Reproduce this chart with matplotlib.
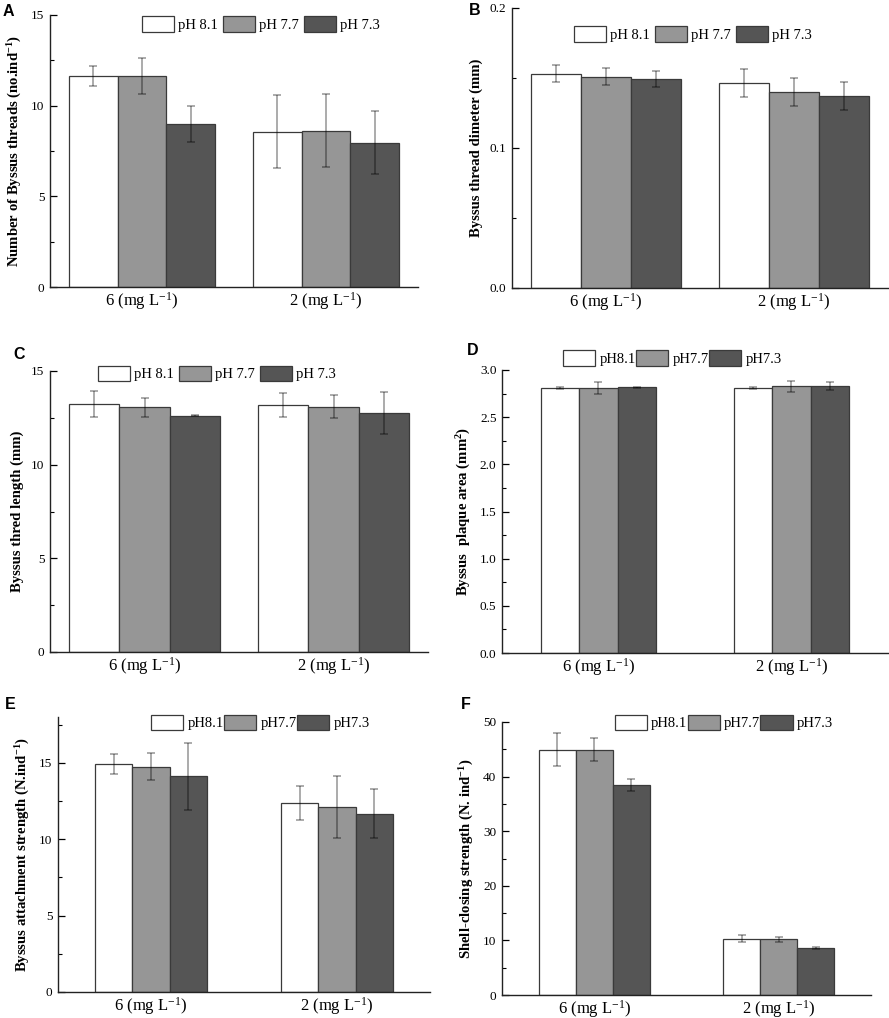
import matplotlib
matplotlib.use("Agg")
import matplotlib.pyplot as plt
import numpy as np

plt.rcParams['font.family'] = ['Liberation Serif', 'DejaVu Serif']
plt.rcParams['mathtext.default'] = 'regular'

groups = ['6 (mg L$^{-1}$)', '2 (mg L$^{-1}$)']
colors = ['white', '#969696', '#555555']

# panel A - number of byssus threads
a_labels = ['pH 8.1', 'pH 7.7', 'pH 7.3']
a_mean = [[11.63, 8.57], [11.63, 8.62], [8.97, 7.96]]
a_err = [[0.57, 2.0], [1.0, 2.0], [1.0, 1.72]]

# panel B - thread diameter
b_labels = ['pH 8.1', 'pH 7.7', 'pH 7.3']
b_mean = [[0.1531, 0.1464], [0.1510, 0.1398], [0.1493, 0.1371]]
b_err = [[0.0063, 0.010], [0.006, 0.010], [0.0057, 0.0101]]

# panel C - thread length
c_labels = ['pH 8.1', 'pH 7.7', 'pH 7.3']
c_mean = [[13.22, 13.17], [13.06, 13.10], [12.62, 12.76]]
c_err = [[0.70, 0.65], [0.50, 0.60], [0.04, 1.10]]

# panel D - plaque area
d_labels = ['pH8.1', 'pH7.7', 'pH7.3']
d_mean = [[2.81, 2.81], [2.806, 2.827], [2.817, 2.827]]
d_err = [[0.015, 0.015], [0.065, 0.06], [0.006, 0.043]]

# panel E - attachment strength
e_labels = ['pH8.1', 'pH7.7', 'pH7.3']
e_mean = [[14.91, 12.38], [14.76, 12.12], [14.13, 11.68]]
e_err = [[0.65, 1.1], [0.9, 2.05], [2.2, 1.6]]

# panel F - shell closing strength
f_labels = ['pH8.1', 'pH7.7', 'pH7.3']
f_mean = [[44.9, 10.3], [44.9, 10.2], [38.5, 8.6]]
f_err = [[3.0, 0.6], [2.1, 0.45], [1.1, 0.2]]

W, H = 889, 1018
fig = plt.figure(figsize=(W / 100, H / 100), dpi=100)


def make_ax(x0, y0, x1, y1):
    return fig.add_axes([x0 / W, 1 - y1 / H, (x1 - x0) / W, (y1 - y0) / H])


def panel(ax, means, errs, labels, width, ylim, major, minor, ylabel, leg_xy, colsp, fmt):
    x = np.array([1, 2])
    for i in range(3):
        pos = x + (i - 1) * width
        ax.bar(pos, means[i], width, color=colors[i], edgecolor='#3a3a3a', linewidth=0.9,
               label=labels[i], zorder=2)
        ax.errorbar(pos, means[i], yerr=errs[i], fmt='none', ecolor=(0, 0, 0, 0.42),
                    elinewidth=1.1, capsize=3, capthick=1.1, zorder=3)
    ax.set_xlim(0.5, 2.5)
    ax.set_ylim(*ylim)
    ax.set_yticks(major)
    ax.set_yticks(minor, minor=True)
    ax.set_yticklabels([fmt % v for v in major])
    ax.set_xticks(x)
    ax.set_xticklabels(groups, fontsize=12)
    ax.tick_params(axis='x', length=0, pad=2)
    ax.tick_params(axis='y', which='major', direction='in', length=5, width=0.9, labelsize=9.5, pad=4)
    ax.tick_params(axis='y', which='minor', direction='in', length=3, width=0.8)
    for s in ['top', 'right']:
        ax.spines[s].set_visible(False)
    for s in ['left', 'bottom']:
        ax.spines[s].set_linewidth(1.0)
        ax.spines[s].set_color('#222222')
    ax.set_ylabel(ylabel, fontsize=10.6, fontweight='bold', labelpad=5)
    ax.legend(loc='center left', bbox_to_anchor=leg_xy, ncol=3, frameon=False,
              fontsize=10.5, handlelength=2.2, handleheight=1.3, handletextpad=0.27,
              columnspacing=colsp, borderpad=0, borderaxespad=0)


axA = make_ax(50, 15, 418, 287)
panel(axA, a_mean, a_err, a_labels, 0.266, (0, 15), [0, 5, 10, 15], [2.5, 7.5, 12.5],
      'Number of Byssus threads (no.ind$^{-1}$)', (0.25, 0.967), 0.34, '%g')

axB = make_ax(512, 8, 888, 288)
panel(axB, b_mean, b_err, b_labels, 0.265, (0, 0.2), [0.0, 0.1, 0.2], [0.05, 0.15],
      'Byssus thread dimeter (mm)', (0.166, 0.907), 0.34, '%.1f')

axC = make_ax(50, 371, 428, 652)
panel(axC, c_mean, c_err, c_labels, 0.267, (0, 15), [0, 5, 10, 15], [2.5, 7.5, 12.5],
      'Byssus thred length (mm)', (0.128, 0.991), 0.34, '%g')

axD = make_ax(502, 370, 888, 653)
panel(axD, d_mean, d_err, d_labels, 0.2, (0, 3.0), np.arange(0, 3.01, 0.5),
      np.arange(0.25, 3.0, 0.5), 'Byssus  plaque area (mm$^{2}$)', (0.159, 1.043), 0.05, '%.1f')

axE = make_ax(58, 717, 430, 992)
panel(axE, e_mean, e_err, e_labels, 0.2, (0, 18), [0, 5, 10, 15], [2.5, 7.5, 12.5, 17.5],
      'Byssus attachment strength (N.ind$^{-1}$)', (0.251, 0.98), 0.05, '%g')

axF = make_ax(502, 722, 871, 995)
panel(axF, f_mean, f_err, f_labels, 0.2, (0, 50), [0, 10, 20, 30, 40, 50], [5, 15, 25, 35, 45],
      'Shell-closing strength (N. ind$^{-1}$)', (0.305, 0.998), 0.05, '%g')

letters = [('A', 3, 4), ('B', 469, 3), ('C', 13, 347), ('D', 467, 343), ('E', 5, 697), ('F', 461, 697)]
for t, px, py in letters:
    fig.text(px / W, 1 - py / H, t, fontsize=11.5, fontweight='bold',
             family=['Liberation Sans', 'DejaVu Sans'], va='top', ha='left')

fig.savefig('out.png', dpi=100)
